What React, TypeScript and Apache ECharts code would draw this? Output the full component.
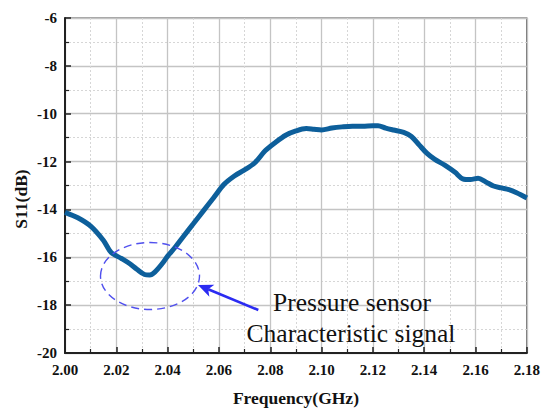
import React, { useEffect, useRef } from "react";
import * as echarts from "echarts";

const freqs = [2.000, 2.005, 2.010, 2.015, 2.018, 2.022, 2.025, 2.028, 2.031, 2.033, 2.035, 2.038, 2.040, 2.043, 2.046, 2.050, 2.054, 2.058, 2.062, 2.066, 2.070, 2.074, 2.078, 2.082, 2.086, 2.090, 2.094, 2.097, 2.100, 2.104, 2.108, 2.112, 2.116, 2.120, 2.122, 2.125, 2.128, 2.132, 2.135, 2.138, 2.141, 2.144, 2.148, 2.152, 2.155, 2.158, 2.161, 2.164, 2.167, 2.170, 2.173, 2.176, 2.180];
const s11 = [-14.12, -14.35, -14.70, -15.30, -15.80, -16.05, -16.25, -16.50, -16.72, -16.74, -16.62, -16.25, -15.95, -15.57, -15.15, -14.60, -14.05, -13.50, -12.95, -12.60, -12.35, -12.05, -11.55, -11.20, -10.90, -10.72, -10.62, -10.65, -10.68, -10.60, -10.55, -10.52, -10.52, -10.50, -10.50, -10.60, -10.68, -10.78, -10.95, -11.30, -11.65, -11.90, -12.15, -12.45, -12.72, -12.75, -12.70, -12.85, -13.02, -13.10, -13.17, -13.30, -13.52];
const xTitle = "Frequency(GHz)";
const yTitle = "S11(dB)";
const noteLines = ["Pressure sensor", "Characteristic signal"];

const FONT = "'Liberation Serif', 'Times New Roman', serif";

export default function App() {
  const ref = useRef<HTMLDivElement>(null);
  useEffect(() => {
    if (!ref.current) return;
    const chart = echarts.init(ref.current, null, { renderer: "svg" });
    const tip = [198, 285];
    const tail = [258.3, 310];
    const dx = tip[0] - tail[0], dy = tip[1] - tail[1];
    const len = Math.sqrt(dx * dx + dy * dy);
    const ux = dx / len, uy = dy / len;
    const px = -uy, py = ux;
    const hl = 15, hw = 6.5;
    const bc = [tip[0] - hl * ux, tip[1] - hl * uy];
    const notch = [tip[0] - 11 * ux, tip[1] - 11 * uy];
    chart.setOption({
      animation: false,
      backgroundColor: "#ffffff",
      grid: {
        left: 65, top: 18, right: 13, bottom: 52,
        show: true, borderColor: "#444", borderWidth: 1.2, backgroundColor: "transparent",
      },
      xAxis: {
        type: "value", min: 2.0, max: 2.18, interval: 0.02,
        name: xTitle, nameLocation: "middle", nameGap: 36,
        nameTextStyle: { fontFamily: FONT, fontWeight: "bold", fontSize: 17.5, color: "#111" },
        axisLine: { show: true, lineStyle: { color: "#222", width: 2 } },
        axisTick: { show: true, inside: true, length: 6, lineStyle: { color: "#222", width: 1.5 } },
        minorTick: { show: true, splitNumber: 2, length: 4, lineStyle: { color: "#222", width: 1.2 } },
        axisLabel: { fontFamily: FONT, fontWeight: "bold", fontSize: 15, color: "#111", margin: 9, formatter: (v: number) => v.toFixed(2) },
        splitLine: { show: true, lineStyle: { color: "#c4c4c4", width: 1.3 } },
        minorSplitLine: { show: true, lineStyle: { color: "#d6d6d6", width: 1, type: [2, 2] } },
      },
      yAxis: {
        type: "value", min: -20, max: -6, interval: 2,
        axisLine: { show: true, lineStyle: { color: "#222", width: 2 } },
        axisTick: { show: true, inside: true, length: 6, lineStyle: { color: "#222", width: 1.5 } },
        minorTick: { show: true, splitNumber: 2, length: 4, lineStyle: { color: "#222", width: 1.2 } },
        axisLabel: { fontFamily: FONT, fontWeight: "bold", fontSize: 15, color: "#111", margin: 8 },
        splitLine: { show: true, lineStyle: { color: "#c4c4c4", width: 1.3 } },
        minorSplitLine: { show: true, lineStyle: { color: "#d6d6d6", width: 1, type: [2, 2] } },
      },
      series: [
        {
          type: "line",
          data: freqs.map((f, i) => [f, s11[i]]),
          smooth: 0.3,
          showSymbol: false,
          lineStyle: { color: "#0d5f9b", width: 5 },
          z: 3,
        },
      ],
      graphic: [
        {
          type: "text",
          x: 21, y: 199, rotation: Math.PI / 2,
          style: { text: yTitle, font: `bold 17.5px ${FONT}`, fill: "#111", align: "center", verticalAlign: "middle" },
        },
        {
          type: "ellipse",
          shape: { cx: 150, cy: 276, rx: 49.5, ry: 33.5 },
          style: { fill: "none", stroke: "#5050ee", lineWidth: 1.4, lineDash: [8, 5] },
          z: 10,
        },
        {
          type: "line",
          shape: { x1: tail[0], y1: tail[1], x2: notch[0], y2: notch[1] },
          style: { stroke: "#2b2bf2", lineWidth: 2.6 },
          z: 10,
        },
        {
          type: "polygon",
          shape: {
            points: [
              tip,
              [bc[0] + px * hw, bc[1] + py * hw],
              notch,
              [bc[0] - px * hw, bc[1] - py * hw],
            ],
          },
          style: { fill: "#2b2bf2" },
          z: 10,
        },
        {
          type: "text",
          x: 352, y: 302,
          style: { text: noteLines[0], font: `25.5px ${FONT}`, fill: "#111", align: "center", verticalAlign: "middle" },
          z: 10,
        },
        {
          type: "text",
          x: 351, y: 333,
          style: { text: noteLines[1], font: `25.5px ${FONT}`, fill: "#111", align: "center", verticalAlign: "middle" },
          z: 10,
        },
      ],
    });
    return () => chart.dispose();
  }, []);
  return <div ref={ref} style={{ width: 543, height: 412, position: "absolute", left: 0, top: 0 }} />;
}
